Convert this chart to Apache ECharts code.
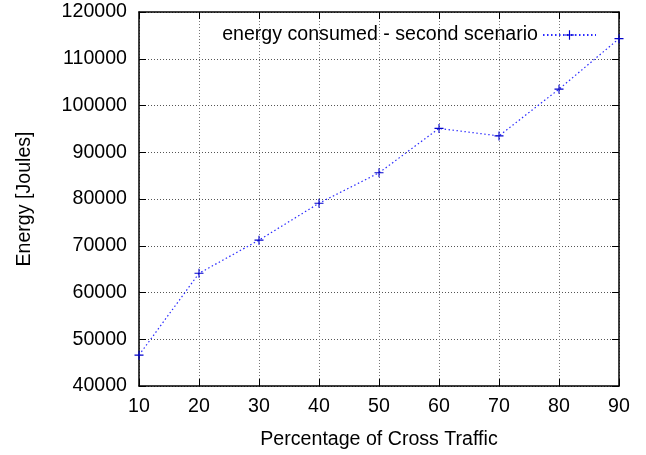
<!DOCTYPE html>
<html>
<head>
<meta charset="utf-8">
<script src="https://cdn.jsdelivr.net/npm/echarts@6/dist/echarts.min.js"></script>
<style>
  html, body { margin: 0; padding: 0; background: #fff; }
  #chart { width: 646px; height: 455px; }
</style>
</head>
<body>
<div id="chart"></div>
<script>
// values
const crossTraffic = [10, 20, 30, 40, 50, 60, 70, 80, 90];
const energySecond = [46600, 64100, 71200, 79100, 85600, 95100, 93500, 103500, 114300];
const seriesName = 'energy consumed - second scenario';

const font = 'Liberation Sans, Arial, sans-serif';
const fontSize = 19.6;
const plus = 'path://M0,4.4L10,4.4L10,5.6L0,5.6Z M4.4,0L5.6,0L5.6,10L4.4,10Z';

let points = crossTraffic.map((x, i) => [x, energySecond[i]]);

let boxAxis = {
    axisLine: { show: true, lineStyle: { color: '#000', width: 1.5 } },
    axisTick: { show: true, inside: true, length: 7, lineStyle: { color: '#000', width: 1 } },
};

let myChart = echarts.init(document.getElementById('chart'));
let option = {
    animation: false,
    grid: { left: 139, right: 27, top: 12, bottom: 60 },
    legend: {
        data: [seriesName],
        right: 44,
        top: 20,
        align: 'right',
        itemWidth: 53,
        itemHeight: 12,
        textStyle: { fontFamily: font, fontSize: fontSize, color: '#000' },
    },
    xAxis: [{
        type: 'value',
        min: 10,
        max: 90,
        interval: 10,
        name: 'Percentage of Cross Traffic',
        nameLocation: 'middle',
        nameGap: 44,
        nameTextStyle: { fontFamily: font, fontSize: fontSize, color: '#000' },
        axisLabel: { fontFamily: font, fontSize: fontSize, color: '#000', margin: 11 },
        splitLine: { show: true, lineStyle: { color: '#777', type: [1, 2], width: 1 } },
        ...boxAxis,
    }, {
        type: 'value',
        position: 'top',
        min: 10,
        max: 90,
        interval: 10,
        axisLabel: { show: false },
        splitLine: { show: false },
        ...boxAxis,
    }],
    yAxis: [{
        type: 'value',
        min: 40000,
        max: 120000,
        interval: 10000,
        name: 'Energy [Joules]',
        nameLocation: 'middle',
        nameGap: 104,
        nameTextStyle: { fontFamily: font, fontSize: fontSize, color: '#000' },
        axisLabel: { fontFamily: font, fontSize: fontSize, color: '#000', margin: 12, formatter: v => String(v) },
        splitLine: { show: true, lineStyle: { color: '#555', type: [1, 2], width: 1 } },
        ...boxAxis,
    }, {
        type: 'value',
        position: 'right',
        min: 40000,
        max: 120000,
        interval: 10000,
        axisLabel: { show: false },
        splitLine: { show: false },
        ...boxAxis,
    }],
    series: [{
        name: seriesName,
        type: 'line',
        data: points,
        symbol: plus,
        symbolSize: 9,
        showAllSymbol: true,
        clip: false,
        itemStyle: { color: '#0000cc' },
        lineStyle: { color: '#2a2aff', width: 1.2, type: [1.5, 2.5] },
    }],
};
myChart.setOption(option);
</script>
</body>
</html>
